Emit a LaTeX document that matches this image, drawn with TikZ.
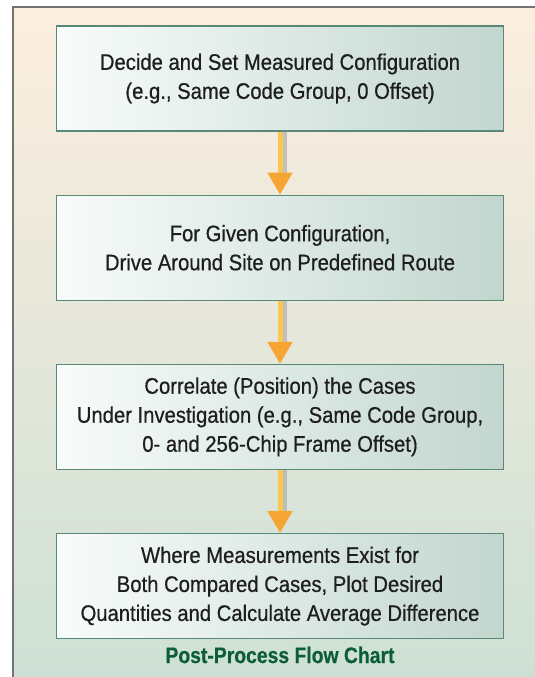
\documentclass[tikz,border=0pt]{standalone}
\usepackage{fontspec}
\setmainfont[FakeStretch=0.9,FakeBold=0.6]{Liberation Sans}
\newfontfamily\titlefont[FakeStretch=0.86,FakeBold=0.4]{Liberation Sans}
\usepackage{tikz}
\usetikzlibrary{arrows.meta,positioning,calc}
\definecolor{panelcream}{RGB}{252,238,223}
\definecolor{panelgreen}{RGB}{205,224,213}
\definecolor{boxleft}{RGB}{248,252,251}
\definecolor{boxright}{RGB}{194,214,206}
\definecolor{boxedge}{RGB}{88,136,118}
\definecolor{arrowyellow}{RGB}{250,200,80}
\definecolor{arrowhead}{RGB}{247,165,50}
\definecolor{titlegreen}{RGB}{12,94,58}
\definecolor{textdark}{RGB}{30,30,30}

\begin{document}
\begin{tikzpicture}[
    node distance=63pt,
    flowbox/.style={rectangle, draw=boxedge, line width=1.2pt, left color=boxleft, right color=boxright,
        align=center, minimum width=447pt, minimum height=105pt, text=textdark,
        font=\fontsize{22.5}{29}\selectfont},
    flowarrow/.style={line width=5pt, draw=arrowyellow, -{Triangle[length=22pt,width=24pt,color=arrowhead]}},
    arrowshade/.style={line width=4pt, draw=black!35, opacity=0.6}
]
    \useasboundingbox (0,0) rectangle (535pt,-677pt);
    % panel behind the chart
    \shade[top color=panelcream, bottom color=panelgreen] (13pt,-7pt) rectangle (540pt,-690pt);
    \draw[black!55, line width=1.2pt] (13pt,-690pt) -- (13pt,-7pt) -- (540pt,-7pt);

    \node[flowbox] (decide) at (280pt,-78.5pt) {Decide and Set Measured Configuration\\(e.g., Same Code Group, 0 Offset)};
    \node[flowbox, below=of decide] (drive) {For Given Configuration,\\Drive Around Site on Predefined Route};
    \node[flowbox, below=of drive] (correlate) {Correlate (Position) the Cases\\Under Investigation (e.g., Same Code Group,\\0- and 256-Chip Frame Offset)};
    \node[flowbox, below=of correlate] (plot) {Where Measurements Exist for\\Both Compared Cases, Plot Desired\\Quantities and Calculate Average Difference};
    \node[below=4pt of plot, font=\titlefont\fontsize{22.5}{29}\selectfont\bfseries, text=titlegreen] (title) {Post-Process Flow Chart};

    % shadows, then arrows
    \foreach \a/\b in {decide/drive, drive/correlate, correlate/plot} {
        \draw[arrowshade] ([xshift=4.5pt]\a.south) -- ([xshift=4.5pt,yshift=22pt]\b.north);
        \draw[flowarrow] (\a.south) -- (\b.north);
    }
\end{tikzpicture}
\end{document}
